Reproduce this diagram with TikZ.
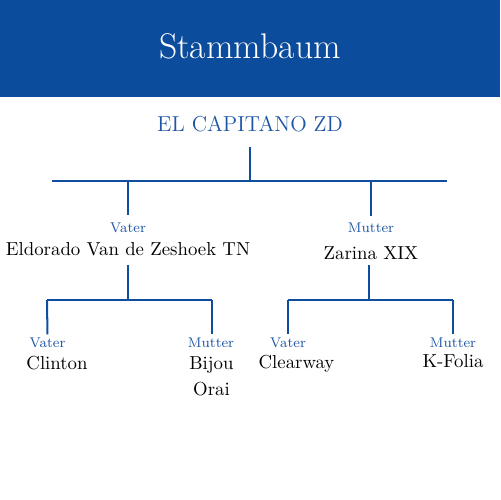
\documentclass[tikz,border=0pt]{standalone}
\usepackage{fontspec}
\definecolor{headblue}{HTML}{0C4C9C}
\definecolor{lineblue}{HTML}{0F4E9E}
\definecolor{textblue}{HTML}{1E55A5}
\begin{document}
\begin{tikzpicture}[x=0.02cm,y=-0.02cm,
  conn/.style={draw=lineblue, line width=1.15pt},
  person/.style={font=\fontsize{10.7}{14.8}\selectfont, anchor=base, inner sep=0pt, align=center},
  rel/.style={font=\fontsize{8}{10}\selectfont, text=textblue, anchor=base, inner sep=0pt}]
\useasboundingbox (0,0) rectangle (500,500);
\fill[headblue] (0,0) rectangle (500,97);
\node[anchor=base, inner sep=0pt, text=white, font=\fontsize{20.3}{24}\selectfont] (title) at (250,59) {Stammbaum};
\node[anchor=base, inner sep=0pt, text=textblue, font=\fontsize{12.3}{14}\selectfont] (root) at (250,132) {EL CAPITANO ZD};
% level 1
\node[rel] (r1v) at (128,232) {Vater};
\node[person] (p1) at (128,255) {Eldorado Van de Zeshoek TN};
\node[rel] (r1m) at (371,232.5) {Mutter};
\node[person] (p2) at (371,259) {Zarina XIX};
% level 2
\node[rel] (r2a) at (47.5,347) {Vater};
\node[person] (p3) at (57,369) {Clinton};
\node[rel] (r2b) at (211,347) {Mutter};
\node[person, anchor=north] (p4) at (211.5,356.5) {Bijou\\Orai};
\node[rel] (r2c) at (288,347) {Vater};
\node[person] (p5) at (296.5,368.5) {Clearway};
\node[rel] (r2d) at (453,347) {Mutter};
\node[person] (p6) at (453,367.5) {K-Folia};
% junction coordinates
\coordinate (j0) at (250,181);
\coordinate (b0l) at (52,181);
\coordinate (b0r) at (447,181);
\coordinate (j0a) at (128,181);
\coordinate (j0b) at (371,181);
\coordinate (j1) at (128,300);
\coordinate (b1l) at (47,300);
\coordinate (b1r) at (212,300);
\coordinate (j2) at (369,300);
\coordinate (b2l) at (288,300);
\coordinate (b2r) at (453,300);
% connectors
\draw[conn, shorten <=8pt] (root.south) -- (j0);
\draw[conn] (b0l) -- (b0r);
\draw[conn, shorten >=4pt] (j0a) -- (r1v.north);
\draw[conn, shorten >=4pt] (j0b) -- (r1m.north);
\draw[conn, shorten <=5.5pt] (p1.south) -- (j1);
\draw[conn] (b1l) -- (b1r);
\draw[conn, shorten >=1.5pt] (b1l) -- (r2a.north);
\draw[conn, shorten >=1.5pt] (b1r) -- (r2b.north -| b1r);
\draw[conn, shorten <=3.2pt] (p2.south -| j2) -- (j2);
\draw[conn] (b2l) -- (b2r);
\draw[conn, shorten >=1.5pt] (b2l) -- (r2c.north);
\draw[conn, shorten >=1.5pt] (b2r) -- (r2d.north);
\end{tikzpicture}
\end{document}
